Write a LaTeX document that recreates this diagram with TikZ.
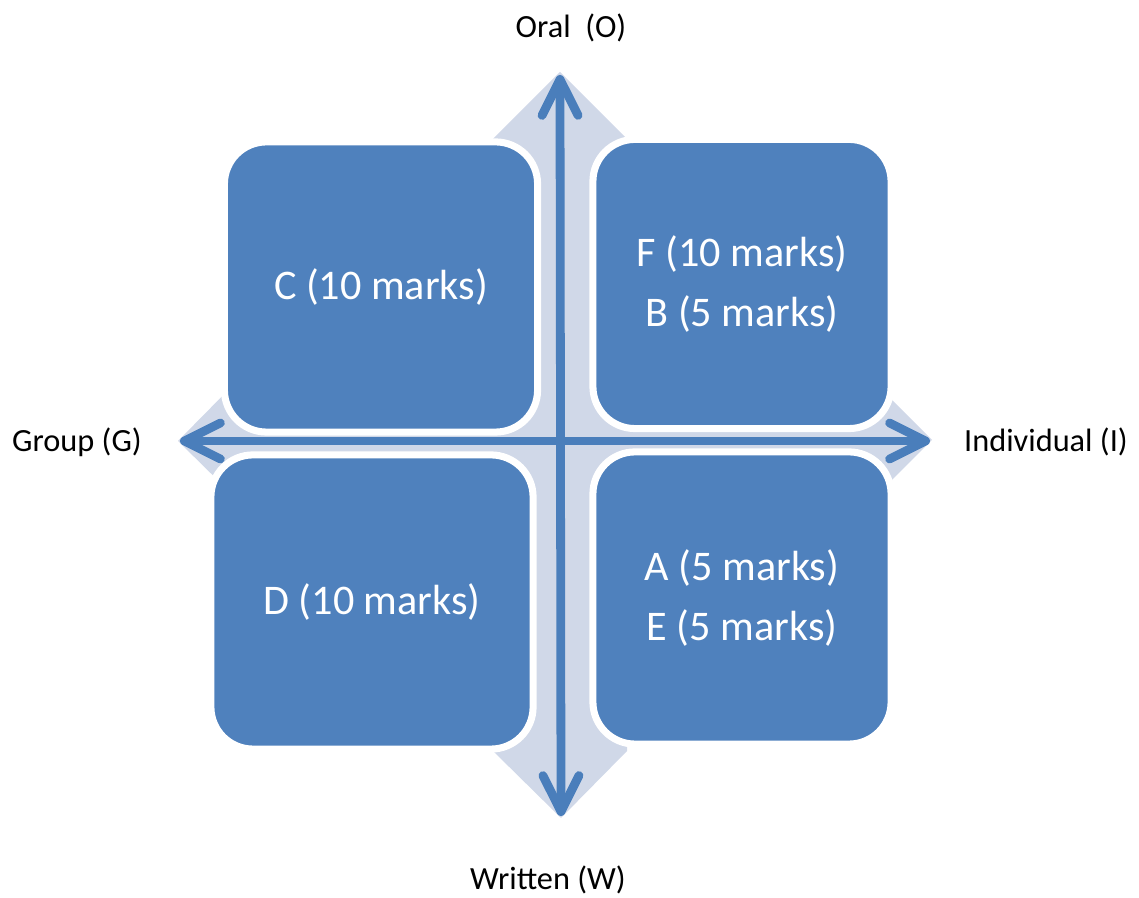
\documentclass[tikz,border=0pt]{standalone}
\usepackage{fontspec}
\setmainfont{Carlito}
\usetikzlibrary{positioning,arrows.meta}
\definecolor{quadblue}{RGB}{79,129,189}
\definecolor{crossgray}{RGB}{208,216,232}
\definecolor{axisblue}{RGB}{74,126,187}

\begin{document}
\begin{tikzpicture}[
    x=0.01cm, y=-0.01cm,
    quad/.style={draw=white, line width=2pt, fill=quadblue, rounded corners=0.42cm, inner sep=0pt, align=center, text=white, font=\fontsize{12}{17}\selectfont},
    axislabel/.style={font=\fontsize{9.2}{11}\selectfont, text=black},
    axisarrow/.style={draw=axisblue, line width=2.5pt, line cap=round, {Straight Barb[length=0.36cm, width=0.36cm, round]}-{Straight Barb[length=0.36cm, width=0.36cm, round]}}
]
\useasboundingbox (0,0) rectangle (1139,898);

% ========== BACKGROUND CROSS ==========
\fill[crossgray] (560,72) -- (627,139) -- (627,373) -- (865,373) -- (932,440) -- (865,507)
    -- (627,507) -- (627,751) -- (561,818) -- (493,751) -- (493,507) -- (245,507)
    -- (178,441) -- (245,373) -- (493,373) -- (493,139) -- cycle;

% ========== QUADRANTS ==========
\node[quad, minimum width=3.13cm, minimum height=2.90cm] (cbox) at (381,287) {C (10 marks)};
\node[quad, minimum width=2.98cm, minimum height=2.89cm] (fbbox) at (742,284) {F (10 marks)\\B (5 marks)};
\node[quad, minimum width=3.22cm, minimum height=2.94cm] (dbox) at (372,602) {D (10 marks)};
\node[quad, minimum width=2.98cm, minimum height=2.92cm] (aebox) at (742,598) {A (5 marks)\\E (5 marks)};

% ========== AXES ==========
\coordinate (oralend) at (560,75);
\coordinate (writtenend) at (561,816);
\coordinate (groupend) at (180,441);
\coordinate (indivend) at (930,441);

\draw[axisarrow] (writtenend) -- (oralend);
\draw[axisarrow] (groupend) -- (indivend);

% axis labels
\node[axislabel] (oral) at (571,28) {Oral\ \ (O)};
\node[axislabel] (written) at (548,880) {Written (W)};
\node[axislabel] (group) at (77,442) {Group (G)};
\node[axislabel] (indiv) at (1046,442) {Individual (I)};

\end{tikzpicture}
\end{document}
